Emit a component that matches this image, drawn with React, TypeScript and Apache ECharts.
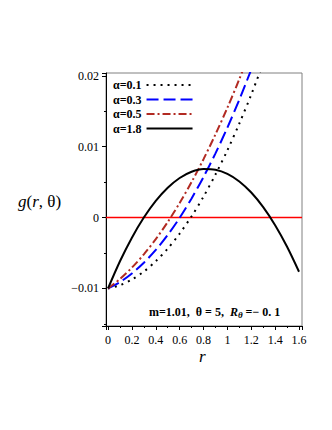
import React, { useEffect, useRef } from "react";
import * as echarts from "echarts";

// r grid (x values)
const rValues = [0, 0.1, 0.2, 0.3, 0.4, 0.5, 0.6, 0.7, 0.8, 0.9, 1.0, 1.1, 1.2, 1.3, 1.4, 1.5, 1.6];

// g(r, θ) for each α
const gAlpha01 = [-0.01, -0.00954, -0.00874, -0.00762, -0.00616, -0.00438, -0.00226, 0.00019, 0.00296, 0.00607, 0.0095, 0.01327, 0.01736, 0.02179];
const gAlpha03 = [-0.01, -0.0091, -0.00789, -0.00638, -0.00457, -0.00245, -0.00003, 0.0027, 0.00573, 0.00906, 0.0127, 0.01664, 0.02089];
const gAlpha05 = [-0.01, -0.00867, -0.00706, -0.00519, -0.00304, -0.00063, 0.00206, 0.00502, 0.00824, 0.01174, 0.0155, 0.01954, 0.02384];
const gAlpha18 = [-0.01, -0.00617, -0.00284, 0.0, 0.00235, 0.00421, 0.00559, 0.00647, 0.00686, 0.00676, 0.00617, 0.0051, 0.00353, 0.00147, -0.00108, -0.00412, -0.00764];

// reference line g = 0
const zeroLine = [0, 0];

const seriesNames = ["α=0.1", "α=0.3", "α=0.5", "α=1.8"];
const xTickLabels = ["0", "0.2", "0.4", "0.6", "0.8", "1", "1.2", "1.4", "1.6"];
const yTickLabels = ["−0.01", "0", "0.01", "0.02"];
const xTickValues = [0, 0.2, 0.4, 0.6, 0.8, 1.0, 1.2, 1.4, 1.6];
const yTickValues = [-0.01, 0, 0.01, 0.02];

const X_MIN = -0.017;
const X_MAX = 1.625;
const Y_MIN = -0.0153;
const Y_MAX = 0.0204;

const SERIF = "'Liberation Serif', 'DejaVu Serif', serif";

function zip(ys: number[]): number[][] {
  return ys.map((y, i) => [rValues[i], y]);
}

function labelFor(v: number, ticks: number[], labels: string[]): string {
  for (let i = 0; i < ticks.length; i++) {
    if (Math.abs(v - ticks[i]) < 1e-9) return labels[i];
  }
  return "";
}

export default function App() {
  const ref = useRef<HTMLDivElement>(null);

  useEffect(() => {
    if (!ref.current) return;
    const chart = echarts.init(ref.current, null, { renderer: "svg" });

    const styles = [
      { color: "#000000", type: [2, 5] as number[], width: 2 },
      { color: "#0000ff", type: [12, 5] as number[], width: 2 },
      { color: "#b22a22", type: [8, 3, 2, 3] as number[], width: 2 },
      { color: "#000000", type: "solid" as any, width: 2 },
    ];
    const datas = [gAlpha01, gAlpha03, gAlpha05, gAlpha18];

    const series: any[] = [
      {
        name: "zero",
        type: "line",
        data: [
          [X_MIN, zeroLine[0]],
          [X_MAX, zeroLine[1]],
        ],
        symbol: "none",
        silent: true,
        color: "#ff0000",
        lineStyle: { color: "#ff0000", width: 1.4, type: "solid", opacity: 1 },
        itemStyle: { color: "#ff0000" },
        z: 2,
      },
      ...datas.map((d, i) => ({
        name: seriesNames[i],
        type: "line",
        data: zip(d),
        smooth: 0.3,
        symbol: "none",
        clip: true,
        color: styles[i].color,
        lineStyle: styles[i],
        itemStyle: { color: styles[i].color },
        z: 3 + i,
      })),
    ];

    chart.setOption({
      animation: false,
      backgroundColor: "#ffffff",
      grid: {
        left: 106,
        top: 73,
        right: 30,
        bottom: 104,
        show: true,
        borderColor: "#808080",
        borderWidth: 1,
      },
      legend: {
        orient: "vertical",
        left: 108,
        top: 73,
        align: "right",
        itemWidth: 46,
        itemHeight: 10,
        itemGap: 0.5,
        data: seriesNames,
        itemStyle: { opacity: 0 },
        textStyle: {
          fontFamily: SERIF,
          fontWeight: "bold",
          fontSize: 12,
          color: "#000000",
          lineHeight: 14,
        },
      },
      xAxis: {
        type: "value",
        min: X_MIN,
        max: X_MAX,
        splitNumber: 8,
        axisLine: { onZero: false, lineStyle: { color: "#000000", width: 1 } },
        axisTick: { show: true, length: 4, lineStyle: { color: "#000000" } },
        minorTick: { show: true, splitNumber: 2, length: 2, lineStyle: { color: "#000000" } },
        splitLine: { show: false },
        axisLabel: {
          color: "#000000",
          fontFamily: SERIF,
          fontSize: 12,
          margin: 8,
          formatter: (v: number) => labelFor(v, xTickValues, xTickLabels),
        },
      },
      yAxis: {
        type: "value",
        min: Y_MIN,
        max: Y_MAX,
        splitNumber: 4,
        axisLine: { show: true, onZero: false, lineStyle: { color: "#000000", width: 1 } },
        axisTick: { show: true, length: 4, lineStyle: { color: "#000000" } },
        minorTick: { show: true, splitNumber: 2, length: 2, lineStyle: { color: "#000000" } },
        splitLine: { show: false },
        axisLabel: {
          color: "#000000",
          fontFamily: SERIF,
          fontSize: 12,
          margin: 7,
          formatter: (v: number) => labelFor(v, yTickValues, yTickLabels),
        },
      },
      graphic: [
        {
          type: "text",
          left: 18,
          top: 193,
          style: {
            text: "{i|g}{n|(}{i|r}{n|, θ)}",
            rich: {
              i: { fontFamily: SERIF, fontStyle: "italic", fontSize: 17, fill: "#000" },
              n: { fontFamily: SERIF, fontSize: 17, fill: "#000" },
            },
          },
        },
        {
          type: "text",
          left: 199,
          top: 348,
          style: {
            text: "r",
            fontFamily: SERIF,
            fontStyle: "italic",
            fontSize: 17,
            lineHeight: 17,
            fill: "#000",
          },
        },
        {
          type: "text",
          left: 149,
          top: 306,
          style: {
            text: "{b|m=1.01,  θ = 5,  }{i|R}{s|θ}{b| =− 0. 1}",
            rich: {
              b: { fontFamily: SERIF, fontWeight: "bold", fontSize: 12, fill: "#000" },
              i: { fontFamily: SERIF, fontWeight: "bold", fontStyle: "italic", fontSize: 12, fill: "#000" },
              s: { fontFamily: SERIF, fontWeight: "bold", fontStyle: "italic", fontSize: 9, fill: "#000", padding: [6, 0, 0, 0] },
            },
          },
        },
      ],
      series,
    });

    return () => {
      chart.dispose();
    };
  }, []);

  return (
    <div
      ref={ref}
      style={{ position: "absolute", left: 0, top: 0, width: 332, height: 430, background: "#fff" }}
    />
  );
}
